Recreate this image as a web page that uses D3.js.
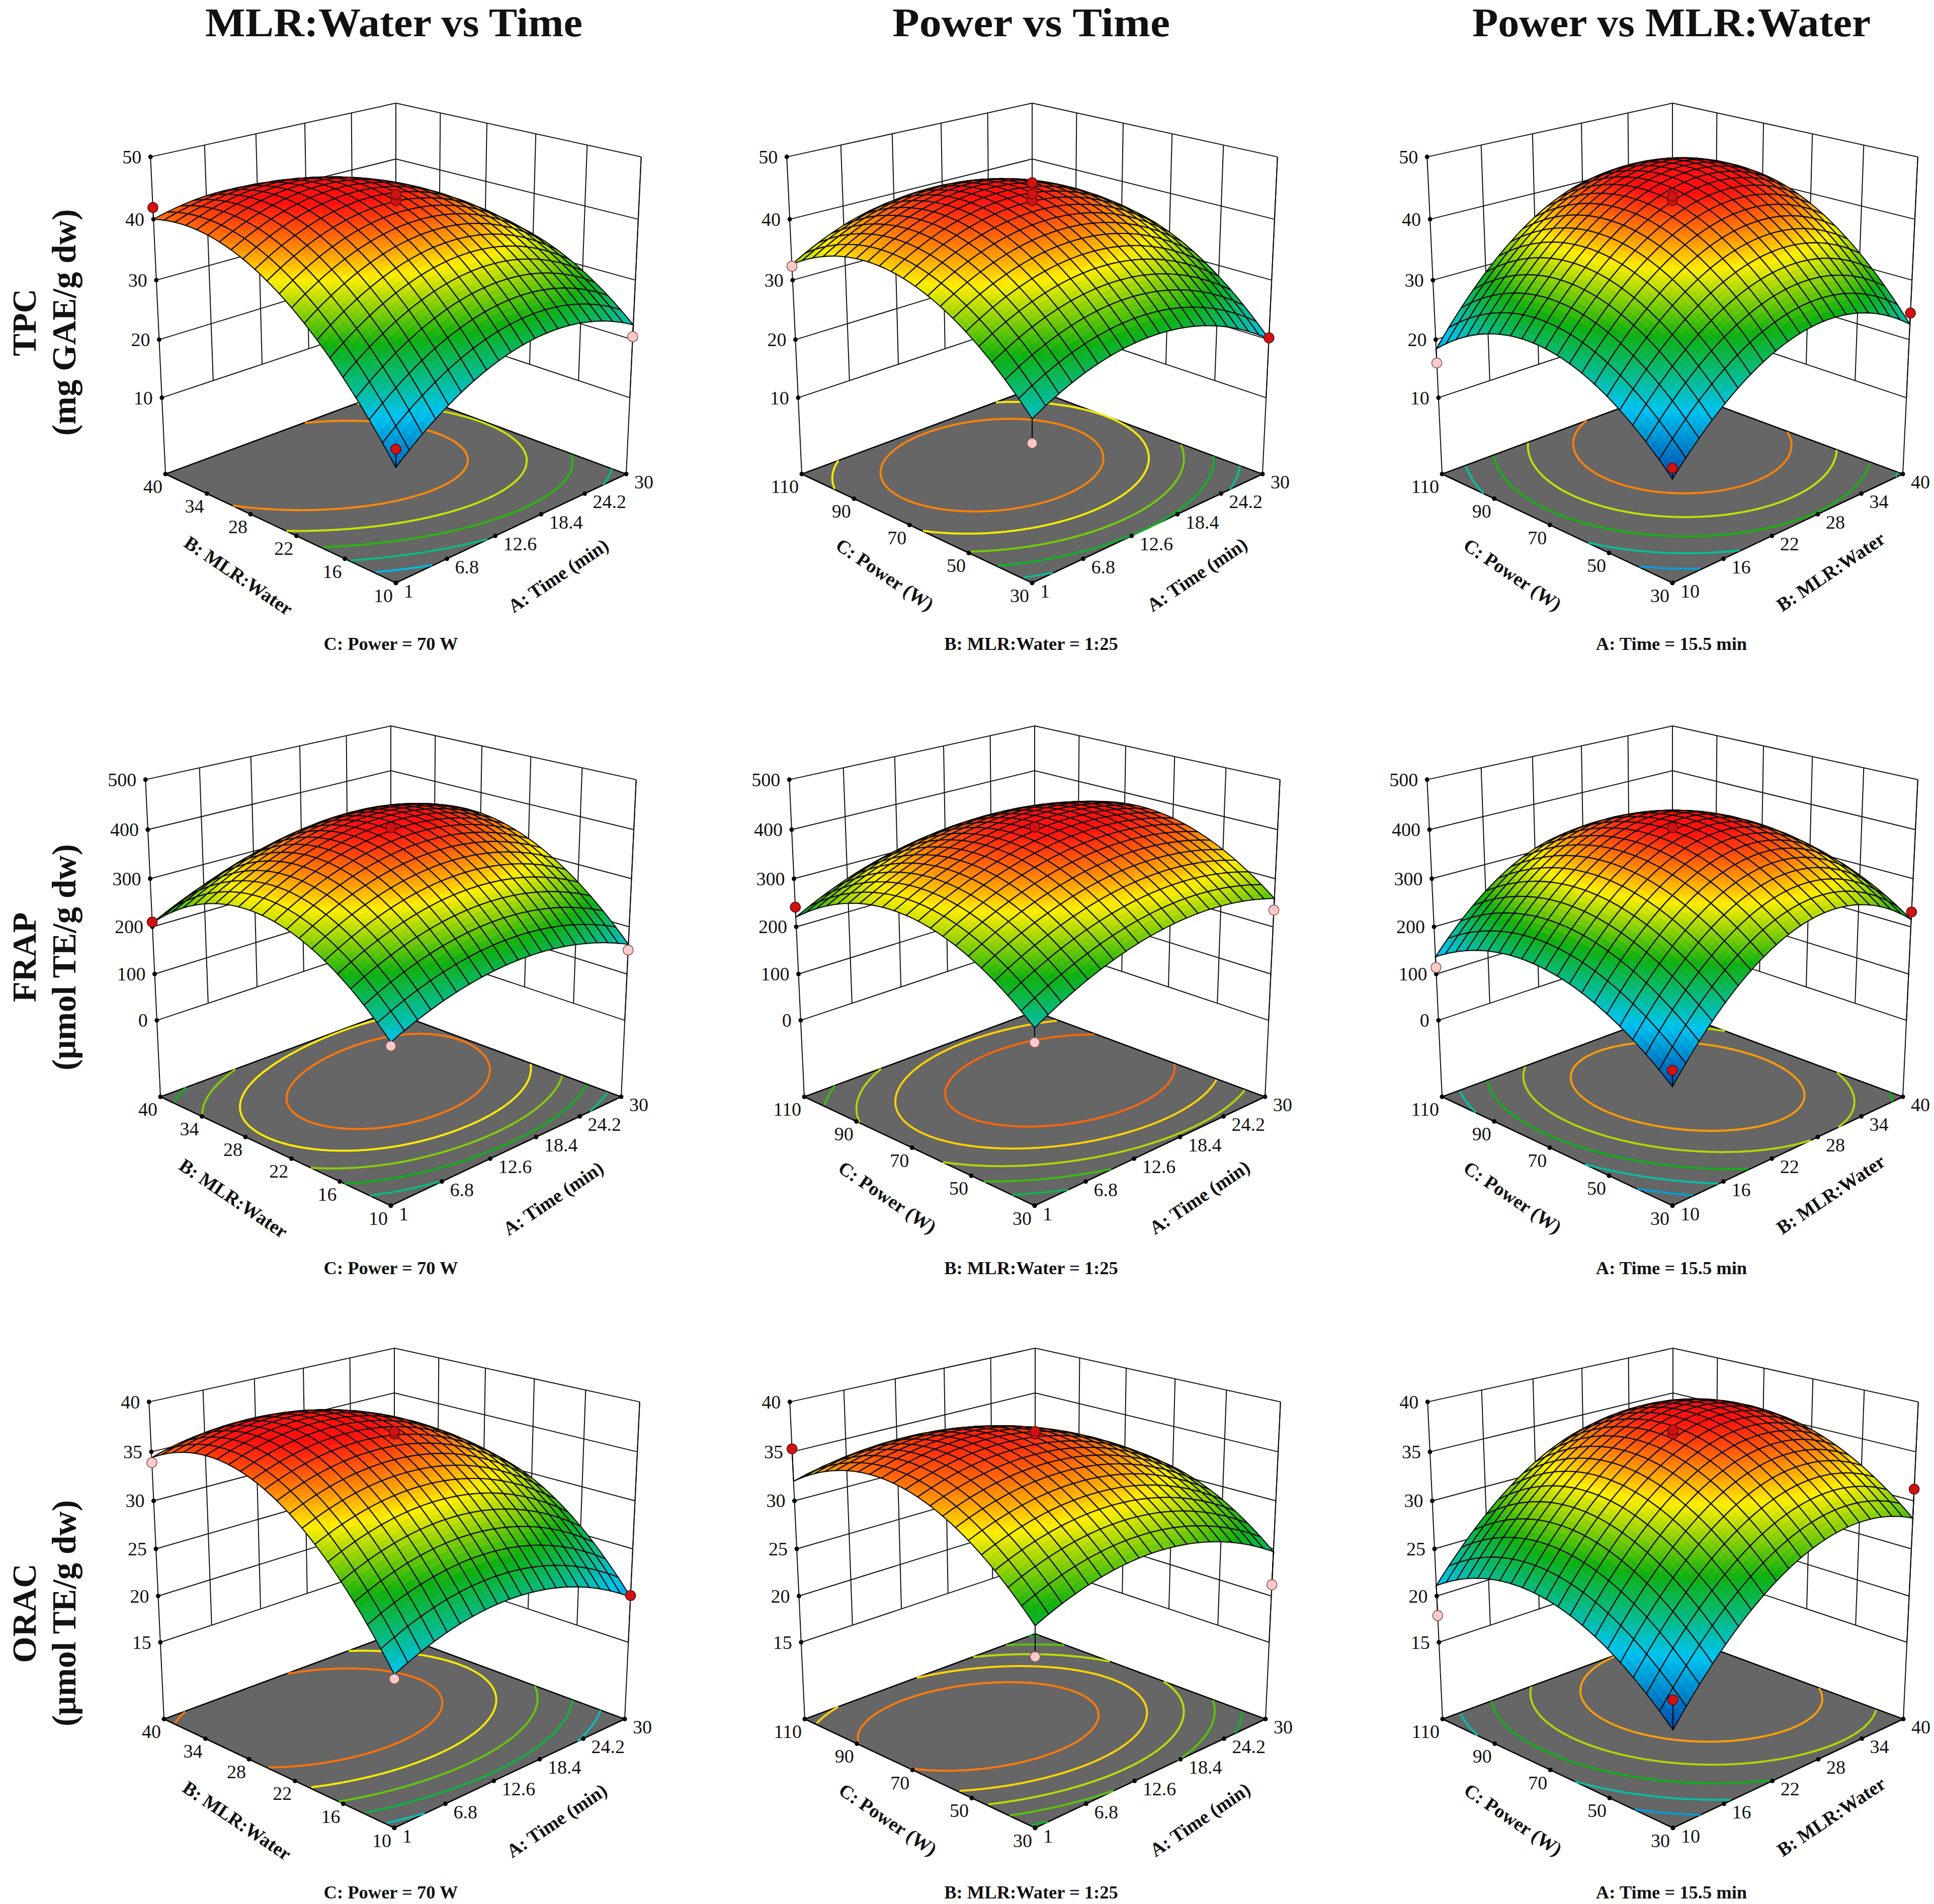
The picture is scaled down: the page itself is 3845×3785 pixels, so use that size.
<!DOCTYPE html>
<html>
<head>
<meta charset="utf-8">
<script src="https://cdn.jsdelivr.net/npm/d3@7"></script>
<style>
  html, body { margin: 0; padding: 0; background: #fff; }
  text { font-family: "Liberation Serif", serif; fill: #111; }
</style>
</head>
<body>
<div id="chart"></div>
<script>
// column headings, row names, fixed factor notes
const columnTitles = ["MLR:Water vs Time", "Power vs Time", "Power vs MLR:Water"];
const rowNames = ["TPC", "FRAP", "ORAC"];
const rowUnits = ["(mg GAE/g dw)", "(\u03bcmol TE/g dw)", "(\u03bcmol TE/g dw)"];
const holdNotes = ["C: Power = 70 W", "B: MLR:Water = 1:25", "A: Time = 15.5 min"];

// factor axes
const timeTicks = [1, 6.8, 12.6, 18.4, 24.2, 30];
const mlrTicks = [10, 16, 22, 28, 34, 40];
const powerTicks = [30, 50, 70, 90, 110];

// response axes: floor value, top value, labelled ticks
const tpcDomain = [-3.5, 50];
const tpcTicks = [10, 20, 30, 40, 50];
const frapDomain = [-169, 500];
const frapTicks = [0, 100, 200, 300, 400, 500];
const oracDomain = [6.5, 40];
const oracTicks = [15, 20, 25, 30, 35, 40];

// colour range of each response row
const tpcColour = [12.9, 44.8];
const frapColour = [65, 412];
const oracColour = [16.2, 38.2];
const colourStops = [0, 0.24, 0.5, 0.73, 0.96];
const colourRamp = ["#0048a8", "#00c4f0", "#10b010", "#ffee00", "#ff1010"];

// surface heights read at low / middle / high of each factor
// rows follow the left hand factor, columns the right hand factor
const tpcTimeMlr = [[14.7, 26.1, 22.5], [36.1, 42.9, 34], [40, 40.5, 28.5]];
const tpcTimePower = [[22.1, 27.9, 20.1], [36.5, 42.9, 34.9], [32.6, 39, 31.7]];
const tpcMlrPower = [[12.9, 27.9, 22.6], [25.5, 42.9, 40.2], [18.4, 38.3, 37.5]];
const frapTimeMlr = [[150, 216, 163], [303.5, 398, 346], [208, 303, 305]];
const frapTimePower = [[176.9, 276.6, 259], [303.5, 398, 378], [220, 312, 290]];
const frapMlrPower = [[65.2, 283.7, 215], [197.6, 398, 314], [136.5, 320, 220]];
const oracTimeMlr = [[21.5, 24.5, 19.9], [34.8, 36.7, 30.6], [34.4, 35.1, 27.9]];
const oracTimePower = [[26.1, 29, 24.7], [34.8, 36.5, 31.1], [32, 32.6, 26.1]];
const oracMlrPower = [[16.2, 28.2, 28.2], [24.1, 36.3, 35.3], [21.1, 32.6, 32.5]];

// design points: right factor, left factor, measured response
const tpcTimeMlrPts = [[1, 40, 41.9], [30, 10, 20.5], [1, 10, 17.5], [15.5, 25, 44], [15.5, 25, 43]];
const tpcTimePowerPts = [[1, 110, 32.3], [30, 30, 20.3], [1, 30, 18.4], [15.5, 70, 45.9], [15.5, 70, 44.1], [15.5, 70, 43]];
const tpcMlrPowerPts = [[10, 110, 16], [40, 30, 24.5], [10, 30, 14.6], [25, 70, 43.7], [25, 70, 43]];
const frapTimeMlrPts = [[1, 40, 210], [30, 10, 151], [1, 10, 142.6], [15.5, 25, 404]];
const frapTimePowerPts = [[1, 110, 241], [30, 30, 235], [1, 30, 149.4], [15.5, 70, 405]];
const frapMlrPowerPts = [[10, 110, 114], [40, 30, 231], [10, 30, 96.8], [25, 70, 404]];
const oracTimeMlrPts = [[1, 40, 33.9], [30, 10, 20.05], [1, 10, 21.1], [15.5, 25, 37.05], [15.5, 25, 36.8]];
const oracTimePowerPts = [[1, 110, 35.3], [30, 30, 21.2], [1, 30, 23.2], [15.5, 70, 37.05], [15.5, 70, 36.8]];
const oracMlrPowerPts = [[10, 110, 17.9], [40, 30, 31.2], [10, 30, 19.1], [25, 70, 37.2], [25, 70, 36.8]];

const columnAxes = [
  { right: timeTicks, left: mlrTicks, rightName: "A: Time (min)", leftName: "B: MLR:Water" },
  { right: timeTicks, left: powerTicks, rightName: "A: Time (min)", leftName: "C: Power (W)" },
  { right: mlrTicks, left: powerTicks, rightName: "B: MLR:Water", leftName: "C: Power (W)" }
];
const rowAxes = [
  { domain: tpcDomain, ticks: tpcTicks, colour: tpcColour, grids: [tpcTimeMlr, tpcTimePower, tpcMlrPower], pts: [tpcTimeMlrPts, tpcTimePowerPts, tpcMlrPowerPts] },
  { domain: frapDomain, ticks: frapTicks, colour: frapColour, grids: [frapTimeMlr, frapTimePower, frapMlrPower], pts: [frapTimeMlrPts, frapTimePowerPts, frapMlrPowerPts] },
  { domain: oracDomain, ticks: oracTicks, colour: oracColour, grids: [oracTimeMlr, oracTimePower, oracMlrPower], pts: [oracTimeMlrPts, oracTimePowerPts, oracMlrPowerPts] }
];

// page layout
const svgWidth = 3845;
const svgHeight = 3785;
const panelX = [[787, 2052, 3325], [777, 2057, 3325], [784, 2058, 3326]];
const panelY = [637, 1875, 3112];
const leftNameAt = [[-320, 518], [-300, 516], [-325, 516]];
const rightNameAt = [[330, 518], [335, 516], [322, 510]];
const titleX = [783, 2050, 3323];
const titleLength = [750, 552, 792];
const noteX = [777, 2050, 3323];
const noteY = [1292, 2533, 3774];
const rowLabelY = [641, 1903, 3207];

// camera looking at the [-1,1] cube from a corner
const elev = 19.5 * Math.PI / 180;
const camDist = 10.6;
const focal = 3541;
const cosE = Math.cos(elev), sinE = Math.sin(elev);

function project(u, v, w) {
  const l = (u - v) / Math.SQRT2;
  const q = (u + v) / Math.SQRT2;
  const depth = camDist + q * cosE - w * sinE;
  return [focal * l / depth, -focal * (w * cosE + q * sinE) / depth];
}

// smooth sheet through the nine heights
function basis(s) { return [s * (s - 1) / 2, 1 - s * s, s * (s + 1) / 2]; }
function sheet(grid, u, v) {
  const bu = basis(u), bv = basis(v);
  let out = 0;
  for (let j = 0; j < 3; j++) for (let i = 0; i < 3; i++) out += grid[j][i] * bu[i] * bv[j];
  return out;
}

const pathOf = d3.line();
const cells = 20, sub = 3;

const svg = d3.select("#chart").append("svg")
  .attr("width", svgWidth)
  .attr("height", svgHeight)
  .attr("viewBox", "0 0 " + svgWidth + " " + svgHeight);

svg.selectAll("text.coltitle").data(columnTitles).enter().append("text")
  .attr("class", "coltitle")
  .attr("x", (d, i) => titleX[i])
  .attr("y", 72)
  .attr("text-anchor", "middle")
  .attr("textLength", (d, i) => titleLength[i])
  .attr("lengthAdjust", "spacingAndGlyphs")
  .style("font-size", "80px")
  .style("font-weight", "bold")
  .text(d => d);

rowNames.forEach(function(name, r) {
  const g = svg.append("g").attr("transform", "translate(0," + rowLabelY[r] + ")");
  g.append("text").attr("transform", "translate(71,0) rotate(-90)")
    .attr("text-anchor", "middle").style("font-size", "67px").style("font-weight", "bold").text(name);
  g.append("text").attr("transform", "translate(150,0) rotate(-90)")
    .attr("text-anchor", "middle").style("font-size", "67px").style("font-weight", "bold").text(rowUnits[r]);
});

function drawPanel(r, c) {
  const row = rowAxes[r], col = columnAxes[c], grid = row.grids[c];
  const xScale = d3.scaleLinear().domain(d3.extent(col.right)).range([-1, 1]);
  const yScale = d3.scaleLinear().domain(d3.extent(col.left)).range([-1, 1]);
  const zScale = d3.scaleLinear().domain(row.domain).range([-1, 1]);
  const colour = d3.scaleLinear()
    .domain(colourStops.map(k => row.colour[0] + k * (row.colour[1] - row.colour[0])))
    .range(colourRamp)
    .clamp(true);

  const g = svg.append("g").attr("transform", "translate(" + panelX[r][c] + "," + panelY[r] + ")");
  const lowTick = d3.min(row.ticks);
  const wLow = zScale(lowTick);

  // walls: left corner -> back corner -> right corner
  const walls = g.append("g").attr("fill", "none").attr("stroke", "#111").attr("stroke-width", 2);
  row.ticks.forEach(function(t) {
    const w = zScale(t);
    walls.append("path").attr("d", pathOf([project(-1, 1, w), project(1, 1, w), project(1, -1, w)]));
  });
  d3.range(0, 6).forEach(function(k) {
    const s = -1 + k * 2 / 5;
    if (k > 0) walls.append("path").attr("d", pathOf([project(s, 1, 1), project(s, 1, wLow)]));
    if (k < 5) walls.append("path").attr("d", pathOf([project(1, s, 1), project(1, s, wLow)]));
  });
  walls.append("path").attr("d", pathOf([project(-1, 1, 1), project(-1, 1, -1)]));
  walls.append("path").attr("d", pathOf([project(1, -1, 1), project(1, -1, -1)]));

  // response ticks on the left edge
  row.ticks.forEach(function(t) {
    const p = project(-1, 1, zScale(t));
    g.append("circle").attr("cx", p[0]).attr("cy", p[1]).attr("r", 4.5).attr("fill", "#000");
    g.append("text").attr("x", p[0] - 18).attr("y", p[1] + 13).attr("text-anchor", "end")
      .style("font-size", "38px").text(t);
  });

  // floor
  g.append("path")
    .attr("d", pathOf([project(-1, -1, -1), project(1, -1, -1), project(1, 1, -1), project(-1, 1, -1)]) + "Z")
    .attr("fill", "#666").attr("stroke", "#000").attr("stroke-width", 2.6);

  // contour rings on the floor, five even steps of the sheet's own range
  const nGrid = 161;
  const values = new Array(nGrid * nGrid);
  const toUnit = i => -1 + 2 * i / (nGrid - 1);
  for (let j = 0; j < nGrid; j++) for (let i = 0; i < nGrid; i++) values[j * nGrid + i] = sheet(grid, toUnit(i), toUnit(j));
  const zMin = d3.min(values), zMax = d3.max(values);
  const levels = d3.range(1, 6).map(k => zMin + k * (zMax - zMin) / 6);
  const rings = d3.contours().size([nGrid, nGrid]).thresholds(levels)(values);
  rings.forEach(function(shape) {
    shape.coordinates.forEach(function(poly) {
      poly.forEach(function(ring) {
        const inside = p => p[0] > 0.5 && p[0] < nGrid - 0.5 && p[1] > 0.5 && p[1] < nGrid - 0.5;
        let start = ring.findIndex(p => !inside(p));
        if (start < 0) start = 0;
        const runs = [];
        let run = [];
        for (let k = 0; k <= ring.length; k++) {
          const p = ring[(start + k) % ring.length];
          if (inside(p)) run.push(project(toUnit(p[0] - 0.5), toUnit(p[1] - 0.5), -1));
          else { if (run.length > 1) runs.push(run); run = []; }
        }
        if (run.length > 1) runs.push(run);
        runs.forEach(function(line) {
          g.append("path").attr("d", pathOf(line)).attr("fill", "none")
            .attr("stroke", colour(shape.value)).attr("stroke-width", 4);
        });
      });
    });
  });

  // factor ticks along the two front floor edges
  col.right.forEach(function(t) {
    const p = project(xScale(t), -1, -1);
    g.append("circle").attr("cx", p[0]).attr("cy", p[1]).attr("r", 4.5).attr("fill", "#000");
    g.append("text").attr("x", p[0] + 16).attr("y", p[1] + 29).style("font-size", "38px").text(t);
  });
  col.left.forEach(function(t) {
    const p = project(-1, yScale(t), -1);
    g.append("circle").attr("cx", p[0]).attr("cy", p[1]).attr("r", 4.5).attr("fill", "#000");
    g.append("text").attr("x", p[0] - 6).attr("y", p[1] + 38).attr("text-anchor", "end")
      .style("font-size", "38px").text(t);
  });
  g.append("text")
    .attr("transform", "translate(" + leftNameAt[c][0] + "," + leftNameAt[c][1] + ") rotate(34)")
    .attr("text-anchor", "middle").style("font-size", "38px").style("font-weight", "bold").text(col.leftName);
  g.append("text")
    .attr("transform", "translate(" + rightNameAt[c][0] + "," + rightNameAt[c][1] + ") rotate(-34)")
    .attr("text-anchor", "middle").style("font-size", "38px").style("font-weight", "bold").text(col.rightName);

  // surface, painted from the back corner to the front corner
  const surface = g.append("g");
  const pt = (u, v) => project(u, v, zScale(sheet(grid, u, v)));
  const step = 2 / cells;
  for (let j = cells - 1; j >= 0; j--) {
    for (let i = cells - 1; i >= 0; i--) {
      const u0 = -1 + i * step, v0 = -1 + j * step;
      const ss = step / sub;
      for (let b = sub - 1; b >= 0; b--) {
        for (let a = sub - 1; a >= 0; a--) {
          const ua = u0 + a * ss, va = v0 + b * ss;
          const shade = colour(sheet(grid, ua + ss / 2, va + ss / 2));
          surface.append("path")
            .attr("d", pathOf([pt(ua, va), pt(ua + ss, va), pt(ua + ss, va + ss), pt(ua, va + ss)]) + "Z")
            .attr("fill", shade).attr("stroke", shade).attr("stroke-width", 1);
        }
      }
      const edge = [];
      d3.range(0, sub).forEach(k => edge.push(pt(u0 + k * step / sub, v0)));
      d3.range(0, sub).forEach(k => edge.push(pt(u0 + step, v0 + k * step / sub)));
      d3.range(0, sub).forEach(k => edge.push(pt(u0 + step - k * step / sub, v0 + step)));
      d3.range(0, sub).forEach(k => edge.push(pt(u0, v0 + step - k * step / sub)));
      surface.append("path").attr("d", pathOf(edge) + "Z")
        .attr("fill", "none").attr("stroke", "#0a0a0a").attr("stroke-width", 2.1);
    }
  }

  // design points with their pins to the surface
  row.pts[c].forEach(function(d) {
    const u = xScale(d[0]), v = yScale(d[1]);
    const on = pt(u, v), p = project(u, v, zScale(d[2]));
    g.append("path").attr("d", pathOf([on, p])).attr("stroke", "#000").attr("stroke-width", 2);
  });
  row.pts[c].slice().sort((a, b) => a[2] - b[2]).forEach(function(d) {
    const u = xScale(d[0]), v = yScale(d[1]);
    const above = d[2] > sheet(grid, u, v);
    const p = project(u, v, zScale(d[2]));
    g.append("circle").attr("cx", p[0]).attr("cy", p[1]).attr("r", 10)
      .attr("fill", above ? "#d01212" : "#ffc9c9")
      .attr("stroke", above ? "#6a0a0a" : "#8a5a5a").attr("stroke-width", 1.6);
  });
}

rowAxes.forEach(function(row, r) {
  columnAxes.forEach(function(col, c) {
    drawPanel(r, c);
    svg.append("text").attr("x", noteX[c]).attr("y", noteY[r]).attr("text-anchor", "middle")
      .style("font-size", "36.5px").style("font-weight", "bold").text(holdNotes[c]);
  });
});
</script>
</body>
</html>
